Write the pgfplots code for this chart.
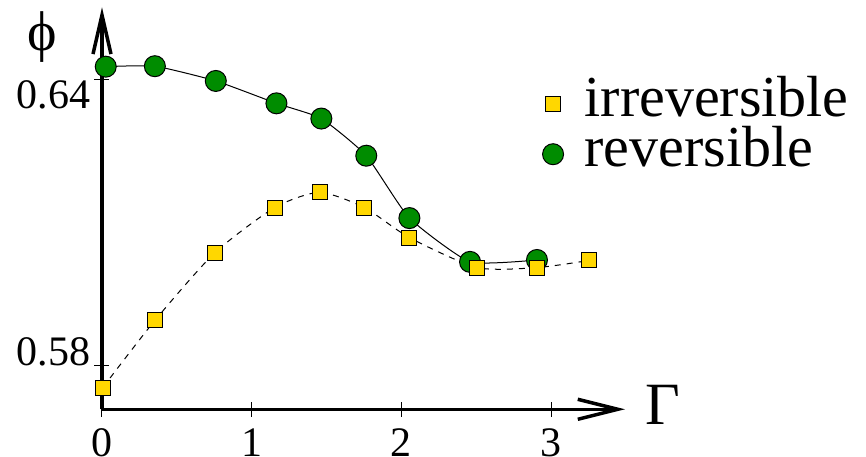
\documentclass[border=0pt]{standalone}
\usepackage{fontspec}
\setmainfont{Liberation Serif}
\usepackage{pgfplots}
\pgfplotsset{compat=1.18}
\usetikzlibrary{arrows.meta}
\definecolor{mygold}{RGB}{255,215,0}
\definecolor{mygreen}{RGB}{0,140,0}
\begin{document}
\begin{tikzpicture}
\useasboundingbox (-102pt,-47.7pt) rectangle (764pt,409.3pt);
\begin{axis}[
  at={(0,0)}, anchor=south west,
  scale only axis, width=523pt, height=402pt,
  xmin=0, xmax=3.493, ymin=0.57084, ymax=0.65527,
  axis lines*=left,
  axis line style={line width=3.5pt},
  x axis line style={-{Straight Barb[length=40pt,width=20pt]}},
  y axis line style={-{Straight Barb[length=39pt,width=18pt]}},
  clip=false,
  tick align=center, major tick length=15pt,
  every tick/.style={black, line width=1pt},
  xtick={0,1,2,3}, xticklabels={0,1,2,3},
  ytick={0.58}, yticklabels={0.58},
  extra y ticks={0.64}, extra y tick labels={0.64},
  extra y tick style={yticklabel style={anchor=north east}},
  /pgf/number format/assume math mode=true,
  ticklabel style={font=\fontsize{42}{42}\selectfont},
  xticklabel style={anchor=north, inner sep=0pt, yshift=-12pt},
  yticklabel style={anchor=base east, inner sep=0pt, xshift=-4pt},
  xlabel={Γ},
  xlabel style={at={(rel axis cs:1.0382,-0.039)}, anchor=base west, inner sep=0pt, font=\fontsize{60}{60}\selectfont},
  ylabel={ϕ},
  ylabel style={at={(rel axis cs:-0.1147,0.926)}, anchor=center, rotate=-90, inner sep=0pt, font=\fontsize{56}{56}\selectfont},
  reverse legend,
  legend style={at={(rel axis cs:0.842,0.839)}, anchor=north west, draw=none, fill=none,
    font=\fontsize{58}{58}\selectfont, row sep=0pt, column sep=21pt, inner sep=0pt,
    nodes={inner sep=0pt}},
  legend cell align=left,
  legend image code/.code={\path[draw=none, fill=none] (0pt,-25pt) -- (0pt,25pt);
    \draw[#1, only marks] plot coordinates {(0pt,-7pt)};},
]
\addplot[black, line width=1pt, smooth, tension=0.3,
  mark=*, mark size=10.5pt, mark options={solid, fill=mygreen, draw=black, line width=1pt}]
  coordinates {
  (0.025,0.6428) (0.353,0.6429) (0.760,0.6398) (1.165,0.6351) (1.465,0.6319)
  (1.765,0.6241) (2.053,0.6110) (2.458,0.6018) (2.905,0.6022)
  };
\addlegendentry{reversible}
\addplot[black, line width=1pt, smooth, tension=0.4, dash pattern=on 6pt off 6pt,
  mark=square*, mark size=7.5pt, mark options={solid, fill=mygold, draw=black, line width=1pt}]
  coordinates {
  (0.005,0.5754) (0.353,0.5895) (0.753,0.6037) (1.153,0.6132) (1.453,0.6164)
  (1.753,0.6132) (2.053,0.6069) (2.505,0.6006) (2.905,0.6006) (3.253,0.6021)
  };
\addlegendentry{irreversible}
\end{axis}
\end{tikzpicture}
\end{document}
